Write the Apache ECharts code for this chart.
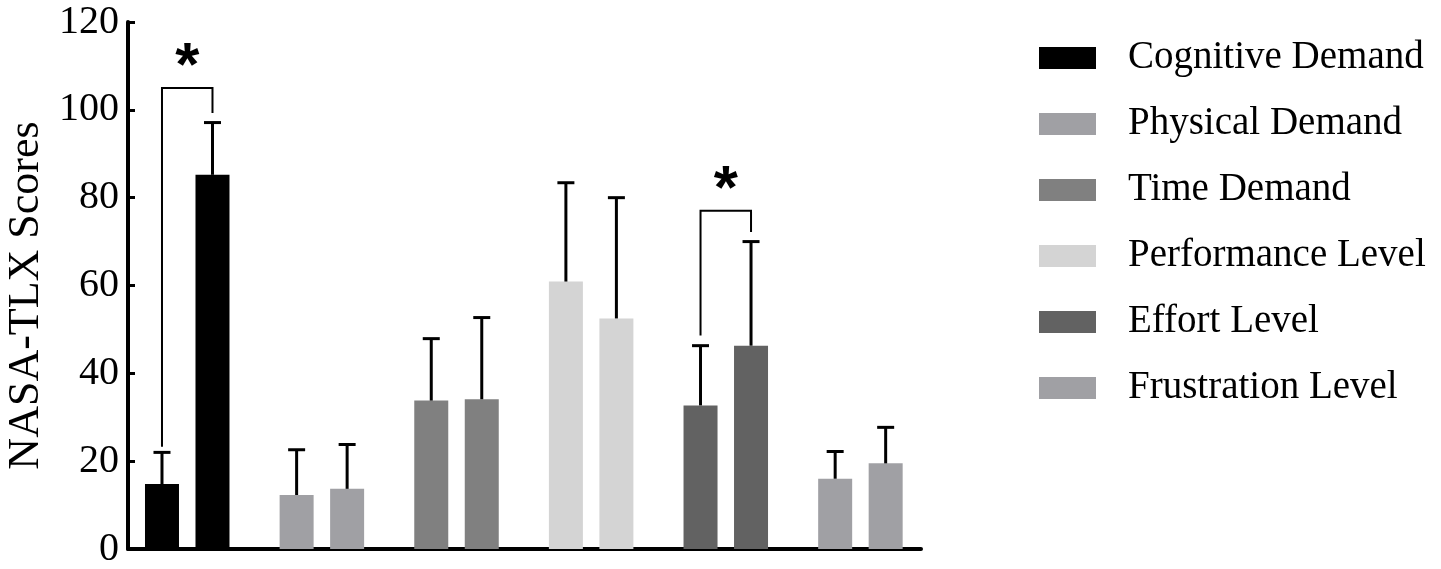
<!DOCTYPE html>
<html>
<head>
<meta charset="utf-8">
<script src="https://cdn.jsdelivr.net/npm/echarts@6/dist/echarts.min.js"></script>
<style>
  html, body { margin: 0; padding: 0; background: #fff; }
  #chart { width: 1441px; height: 569px; }
</style>
</head>
<body>
<div id="chart"></div>
<script>
// categories and their bar colours
const categories = ['Cognitive Demand', 'Physical Demand', 'Time Demand', 'Performance Level', 'Effort Level', 'Frustration Level']
const colors = ['#000000', '#a0a0a4', '#808080', '#d4d4d4', '#626262', '#a0a0a4']

// first and second bar of every pair (mean and upper error)
const firstMeans = [14.8, 12.3, 33.8, 60.9, 32.7, 16.0]
const firstErrs = [7.2, 10.3, 14.1, 22.5, 13.6, 6.2]
const secondMeans = [85.2, 13.7, 34.1, 52.5, 46.3, 19.5]
const secondErrs = [11.9, 10.1, 18.6, 27.5, 23.7, 8.2]

// significance brackets: [group, bracket top, left leg end, right leg end, star]
const brackets = [
  [0, 105, 23.3, 99.3, 113],
  [4, 77, 48.6, 72.2, 85]
]

const yTicks = [0, 20, 40, 60, 80, 100, 120]

const BAR_W = 34
const GAP = 16.5
const HALF = (BAR_W + GAP) / 2
const FONT = 'Liberation Serif'

const chart = echarts.init(document.getElementById('chart'))

const barData = (means) => means.map((v, i) => ({
  value: [i, v],
  itemStyle: { color: colors[i] }
}))

const errSeries = (means, errs, sign) => ({
  type: 'custom',
  z: 5,
  data: means.map((v, i) => [i, v, v + errs[i]]),
  renderItem: (params, api) => {
    const lo = api.coord([api.value(0), api.value(1)])
    const hi = api.coord([api.value(0), api.value(2)])
    const x = lo[0] + sign * HALF
    const style = { stroke: '#000', lineWidth: 3 }
    return {
      type: 'group',
      children: [
        { type: 'line', shape: { x1: x, y1: lo[1], x2: x, y2: hi[1] }, style },
        { type: 'line', shape: { x1: x - 8.5, y1: hi[1], x2: x + 8.5, y2: hi[1] }, style }
      ]
    }
  }
})

const legendSeries = categories.map((name, i) => ({
  name,
  type: 'bar',
  xAxisIndex: 1,
  yAxisIndex: 1,
  data: [],
  itemStyle: { color: colors[i] }
}))

const option = {
  animation: false,
  backgroundColor: '#fff',
  grid: [
    { left: 128, right: 520, top: 22, bottom: 20, outerBoundsMode: 'none', containLabel: false },
    { left: 0, top: 0, width: 1, height: 1, outerBoundsMode: 'none' }
  ],
  legend: {
    orient: 'vertical',
    left: 1039,
    top: 36,
    padding: 0,
    icon: 'rect',
    itemWidth: 57,
    itemHeight: 22,
    itemGap: 22,
    selectedMode: false,
    data: categories,
    textStyle: { fontFamily: FONT, fontSize: 39, color: '#000', lineHeight: 44, padding: [0, 0, 0, 27] }
  },
  xAxis: [
    {
      type: 'value',
      min: -0.44,
      max: 5.45,
      axisLine: { lineStyle: { color: '#000', width: 4 } },
      axisTick: { show: false },
      axisLabel: { show: false },
      splitLine: { show: false }
    },
    { type: 'value', gridIndex: 1, show: false }
  ],
  yAxis: [
    {
      type: 'value',
      min: 0,
      max: 120,
      interval: 20,
      name: 'NASA-TLX Scores',
      nameLocation: 'middle',
      nameGap: 77,
      nameTextStyle: { fontFamily: FONT, fontSize: 44, color: '#000', padding: [0, 20, 0, 0] },
      axisLine: { onZero: false, lineStyle: { color: '#000', width: 4 } },
      axisTick: { inside: true, length: 7, lineStyle: { color: '#000', width: 3 } },
      axisLabel: {
        margin: 9,
        fontFamily: FONT,
        fontSize: 40,
        color: '#000',
        formatter: (v) => (yTicks.includes(v) ? String(v) : '')
      },
      splitLine: { show: false }
    },
    { type: 'value', gridIndex: 1, show: false }
  ],
  series: [
    { type: 'bar', barWidth: BAR_W, barGap: (GAP / BAR_W * 100) + '%', data: barData(firstMeans) },
    { type: 'bar', barWidth: BAR_W, barGap: (GAP / BAR_W * 100) + '%', data: barData(secondMeans) },
    errSeries(firstMeans, firstErrs, -1),
    errSeries(secondMeans, secondErrs, 1),
    {
      type: 'custom',
      z: 6,
      data: brackets,
      renderItem: (params, api) => {
        const g = api.value(0)
        const top = api.coord([g, api.value(1)])
        const l = api.coord([g, api.value(2)])
        const r = api.coord([g, api.value(3)])
        const star = api.coord([g, api.value(4)])
        const xl = top[0] - HALF
        const xr = top[0] + HALF
        return {
          type: 'group',
          children: [
            {
              type: 'polyline',
              shape: { points: [[xl, l[1]], [xl, top[1]], [xr, top[1]], [xr, r[1]]] },
              style: { stroke: '#000', lineWidth: 2, fill: null }
            },
            {
              type: 'text',
              x: top[0],
              y: star[1] + 15,
              style: {
                text: '*',
                font: 'bold 62px "Liberation Sans"',
                fill: '#000',
                align: 'center',
                verticalAlign: 'middle'
              }
            }
          ]
        }
      }
    },
    ...legendSeries
  ]
}

chart.setOption(option)
</script>
</body>
</html>
